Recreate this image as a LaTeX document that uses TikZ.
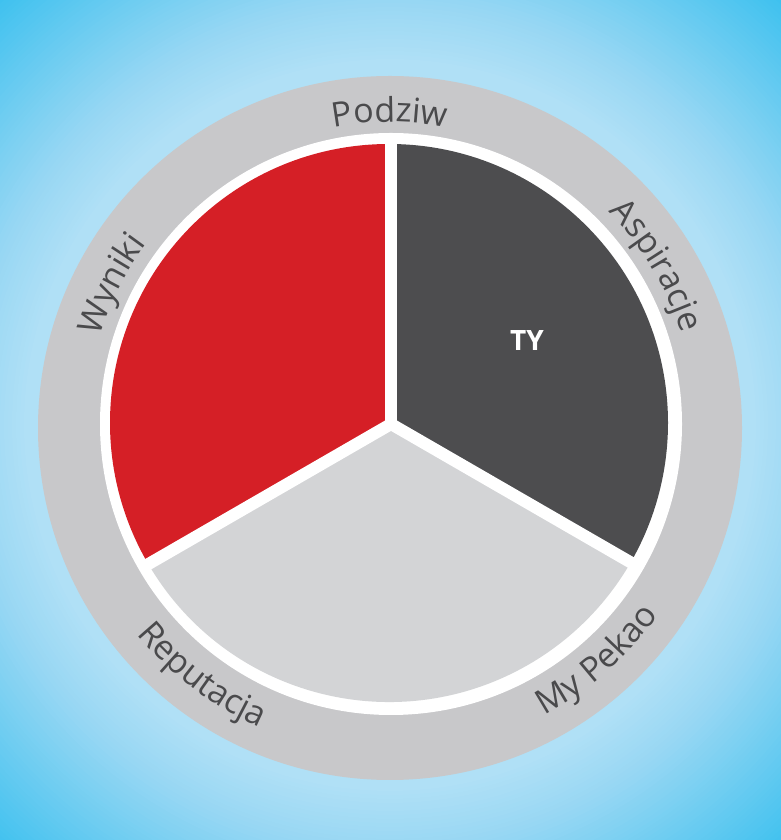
\documentclass[tikz,border=0pt]{standalone}
\usepackage{fontspec}
\setmainfont{Open Sans}
\newfontfamily\labfont{Open Sans}
\usetikzlibrary{decorations.text,calc}
\definecolor{ringgray}{HTML}{C8C8CA}
\definecolor{lightsec}{HTML}{D3D4D6}
\definecolor{darksec}{HTML}{4D4D4F}
\definecolor{redsec}{HTML}{D51F26}
\definecolor{txt}{HTML}{4A4A4C}
\definecolor{bgC}{HTML}{B0E0F6}
\definecolor{bgD}{HTML}{98D7F3}
\definecolor{bgE}{HTML}{3EC1EF}
\tikzset{
  ringlabel/.style={decorate, decoration={text along path, text align=center, text color=txt,
     text={|\labfont\fontsize{34}{40}\selectfont|#1}}},
  sepline/.style={white, line width=12pt},
  disc/.style={circle, inner sep=0pt, outer sep=0pt}
}
\begin{document}
\begin{tikzpicture}[x=1pt,y=1pt]
\useasboundingbox (0,0) rectangle (781,840);
\begin{scope}
\clip (0,0) rectangle (781,840);
\foreach \r in {582,578,...,340}{
  \pgfmathsetmacro\pa{max(0,min(100,(580-\r)/155*100))}
  \pgfmathsetmacro\pb{max(0,min(100,(425-\r)/60*100))}
  \colorlet{mixA}{bgD!\pa!bgE}
  \colorlet{mixB}{bgC!\pb!mixA}
  \fill[mixB] (390,415) circle[radius=\r];
}
\end{scope}
\node[disc, fill=ringgray, minimum size=704pt] (outerring) at (390,412) {};
\node[disc, fill=white, minimum size=582pt] (whitering) at (391,416) {};
\coordinate (sc) at (389,417);
\fill[redsec] (sc) -- ++(90:279) arc[start angle=90, end angle=210, radius=279] -- cycle;
\fill[darksec] (sc) -- ++(90:279) arc[start angle=90, end angle=-30, radius=279] -- cycle;
\fill[lightsec] (sc) -- ++(210:279) arc[start angle=210, end angle=330, radius=279] -- cycle;
\coordinate (j) at (391,416);
\coordinate (ja) at ($(j)+(90:288)$);
\coordinate (jb) at ($(j)+(210:288)$);
\coordinate (jc) at ($(j)+(330:288)$);
\draw[sepline] (j) -- (ja);
\draw[sepline] (j) -- (jb);
\draw[sepline] (j) -- (jc);
\node[text=white, font=\fontsize{28}{32}\selectfont\bfseries] (ty) at (527,499) {TY};
\coordinate (lc) at (390,414);
\path[ringlabel={Podziw}] ($(lc)+(120:304)$) arc[start angle=120, end angle=60, radius=304];
\path[ringlabel={Aspiracje}] ($(lc)+(61:306)$) arc[start angle=61, end angle=1, radius=306];
\path[ringlabel={Wyniki}] ($(lc)+(183:304)$) arc[start angle=183, end angle=123, radius=304];
\path[ringlabel={Reputacja}] ($(lc)+(203:328)$) arc[start angle=203, end angle=263, radius=328];
\path[ringlabel={My Pekao}] ($(lc)+(-78.5:328)$) arc[start angle=-78.5, end angle=-18.5, radius=328];
\end{tikzpicture}
\end{document}
